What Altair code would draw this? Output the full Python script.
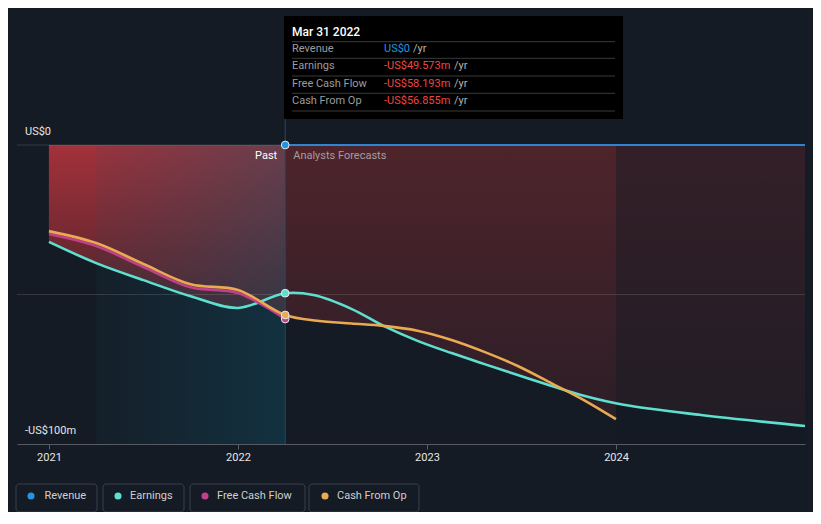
import altair as alt
import pandas as pd

BG = "#151b24"
W, H = 788, 428
X_DOMAIN = [2020.831, 2025.0]
Y_DOMAIN = [-100, 43.14]
NOW = 2022.25

# ---------------- data (US$ m) ----------------
series_names = ["Revenue", "Earnings", "Free Cash Flow", "Cash From Op"]
series_colors = ["#2394df", "#5ee0d0", "#c2408a", "#e9aa52"]

past_years = [2021.0, 2021.25, 2021.5, 2021.75, 2022.0, 2022.25]
earn_past = [-32.4, -39.5, -45.2, -50.6, -54.5, -49.573]
fcf_past = [-29.8, -33.8, -40.8, -47.6, -49.5, -58.193]
cfo_past = [-28.8, -32.8, -39.8, -46.6, -48.5, -56.855]

earn_fc_years = [2022.25, 2022.4, 2022.6, 2022.77, 2022.95, 2023.13,
                 2023.3, 2023.48, 2023.66, 2023.83, 2024.04, 2024.45, 2025.0]
earn_fc = [-49.573, -50.2, -54.8, -60.5, -65.5, -69.6,
           -73.2, -76.9, -80.6, -83.9, -86.9, -90.3, -94.0]
cfo_fc_years = [2022.25, 2022.42, 2022.6, 2022.77, 2022.95, 2023.13,
                2023.3, 2023.48, 2023.66, 2023.83, 2024.0]
cfo_fc = [-56.855, -58.8, -59.7, -60.5, -62.1, -65.2,
          -69.1, -73.9, -79.7, -85.3, -91.7]
rev_fc_years = [2022.25, 2025.0]
rev_fc = [0, 0]

tip_title = "Mar 31 2022"
tip_labels = ["Revenue", "Earnings", "Free Cash Flow", "Cash From Op"]
tip_values = ["US$0", "-US$49.573m", "-US$58.193m", "-US$56.855m"]
tip_value_colors = ["#2394df", "#f04646", "#f04646", "#f04646"]

grid_values = [0, -50]
ylabel_values = [0, -100]
ylabel_texts = ["US$0", "-US$100m"]
x_ticks = [2021, 2022, 2023, 2024]

# ---------------- layout (pixels, plot-relative) ----------------
tip_box = dict(x0=267, x1=606, y0=0, y1=103)
tip_row_y = [33.3, 50, 68, 84.7]
tip_sep_y = [25.7, 42.3, 60, 77.3, 95]
tip_unit_x = [396, 437, 437, 437]
leg_box_x0 = [-1, 86, 173, 292]
leg_box_x1 = [80, 167, 288, 402]
leg_dot_x = [14, 101, 188, 308]
leg_text_x = [27.5, 113, 200, 320]

INTERP = "catmull-rom"

# ---------------- tables ----------------
def rows(name, years, vals):
    return [{"series": name, "year": y, "value": v} for y, v in zip(years, vals)]

lines_df = pd.DataFrame(
    rows("Earnings", past_years + earn_fc_years[1:], earn_past + earn_fc[1:])
    + rows("Free Cash Flow", past_years, fcf_past)
    + rows("Cash From Op", past_years + cfo_fc_years[1:], cfo_past + cfo_fc[1:])
)
rev_df = pd.DataFrame(rows("Revenue", rev_fc_years, rev_fc))
area_past_e = pd.DataFrame(rows("Earnings", past_years, earn_past))
area_past_f = pd.DataFrame(rows("Free Cash Flow", past_years, fcf_past))
area_fc_e = pd.DataFrame(rows("Earnings", earn_fc_years, earn_fc))
area_fc_c = pd.DataFrame(rows("Cash From Op", cfo_fc_years, cfo_fc))
points_df = pd.DataFrame({
    "series": series_names,
    "year": [NOW] * 4,
    "value": [0, earn_past[-1], fcf_past[-1], cfo_past[-1]],
})

xaxis = alt.Axis(values=x_ticks, format="d", title=None, grid=False,
                 labelColor="#e6e6e6", labelFontSize=11, labelFont="Roboto",
                 tickColor="#5a5f68", tickSize=5, domainColor="#555a63",
                 labelPadding=2)
xs = alt.Scale(domain=X_DOMAIN, nice=False, zero=False)
ys = alt.Scale(domain=Y_DOMAIN, nice=False, zero=False)


def X(field="year"):
    return alt.X(f"{field}:Q", scale=xs, axis=xaxis)


def Y(field="value"):
    return alt.Y(f"{field}:Q", scale=ys, axis=None)


color_scale = alt.Scale(domain=series_names, range=series_colors)


def vgrad(c_top, c_bot):
    return {"gradient": "linear", "x1": 0, "y1": 0, "x2": 0, "y2": 1,
            "stops": [{"offset": 0, "color": c_top}, {"offset": 1, "color": c_bot}]}


past_grad = vgrad("#a3313a", "#4c232b")
fc_grad = vgrad("#4f242b", "#2c1e27")
teal_grad = {"gradient": "linear", "x1": 0, "y1": 0, "x2": 1, "y2": 0,
             "stops": [{"offset": 0, "color": "rgba(15,82,105,0.08)"},
                       {"offset": 1, "color": "rgba(15,82,105,0.40)"}]}

layers = []
for d, g in [(area_past_e, past_grad), (area_past_f, past_grad),
             (area_fc_e, fc_grad), (area_fc_c, fc_grad)]:
    layers.append(alt.Chart(d).mark_area(color=g, interpolate=INTERP).encode(
        x=X(), y=Y(), y2=alt.datum(0)))

band_df = pd.DataFrame({"x0": [2024.0, 2021.25], "x1": [2025.0, NOW],
                        "y0": [0, 0], "y1": [-100, -100], "kind": ["dim", "teal"]})
layers.append(alt.Chart(band_df).transform_filter(alt.datum.kind == "dim").mark_rect(
    color="rgba(21,27,36,0.45)").encode(x=X("x0"), x2="x1:Q", y=Y("y0"), y2="y1:Q"))
layers.append(alt.Chart(band_df).transform_filter(alt.datum.kind == "teal").mark_rect(
    color=teal_grad).encode(x=X("x0"), x2="x1:Q", y=Y("y0"), y2="y1:Q"))

grid_df = pd.DataFrame({"v": grid_values})
layers.append(alt.Chart(grid_df).mark_rule(color="#ffffff", opacity=0.13, strokeWidth=1)
              .encode(y=Y("v")))

now_df = pd.DataFrame({"year": [NOW], "lo": [Y_DOMAIN[0]], "hi": [Y_DOMAIN[1]]})
layers.append(alt.Chart(now_df).mark_rule(color="#1f4d63", strokeWidth=1)
              .encode(x=X(), y=Y("lo"), y2="hi:Q"))

layers.append(alt.Chart(rev_df).mark_line(color="#2f84d4", strokeWidth=2)
              .encode(x=X(), y=Y()))

layers.append(alt.Chart(lines_df).mark_line(strokeWidth=2.6, interpolate=INTERP).encode(
    x=X(), y=Y(), color=alt.Color("series:N", scale=color_scale, legend=None),
    detail="series:N"))

layers.append(alt.Chart(points_df).mark_circle(size=60, opacity=1, stroke="#e8e8e8",
                                                strokeWidth=1).encode(
    x=X(), y=Y(), color=alt.Color("series:N", scale=color_scale, legend=None)))

lab_df = pd.DataFrame({"year": [NOW, NOW], "value": [0, 0],
                       "t": ["Past", "Analysts Forecasts"]})
layers.append(alt.Chart(lab_df).transform_filter(alt.datum.t == "Past").mark_text(
    align="right", baseline="middle", dx=-8, dy=11, fontSize=11, font="Roboto",
    color="#ffffff").encode(x=X(), y=Y(), text="t:N"))
layers.append(alt.Chart(lab_df).transform_filter(alt.datum.t != "Past").mark_text(
    align="left", baseline="middle", dx=8, dy=11, fontSize=11, font="Roboto",
    color="#a49ca2").encode(x=X(), y=Y(), text="t:N"))

ylab_df = pd.DataFrame({"v": ylabel_values, "t": ylabel_texts})
layers.append(alt.Chart(ylab_df).mark_text(
    align="left", baseline="middle", dy=-13, fontSize=11, font="Roboto",
    color="#e6e6e6").encode(x=alt.value(8), y=Y("v"), text="t:N"))

# tooltip box
tb = pd.DataFrame([tip_box])
layers.append(alt.Chart(tb).mark_rect(color="#000000").encode(
    x=alt.X("x0:Q", scale=None), x2="x1:Q", y=alt.Y("y0:Q", scale=None), y2="y1:Q"))
sep_df = pd.DataFrame({"y": tip_sep_y})
layers.append(alt.Chart(sep_df).mark_rule(color="#3a3a3a", strokeWidth=1).encode(
    x=alt.value(275), x2=alt.value(598), y=alt.Y("y:Q", scale=None)))
title_df = pd.DataFrame({"t": [tip_title]})
layers.append(alt.Chart(title_df).mark_text(
    align="left", baseline="middle", fontSize=12, font="Roboto", color="#ffffff",
    fontWeight=500).encode(x=alt.value(275), y=alt.value(15.7), text="t:N"))
tip_df = pd.DataFrame({"label": tip_labels, "val": tip_values, "vc": tip_value_colors,
                       "y": tip_row_y, "ux": tip_unit_x, "unit": ["/yr"] * 4})
layers.append(alt.Chart(tip_df).mark_text(
    align="left", baseline="middle", fontSize=11, font="Roboto", color="#9c9c9c").encode(
    x=alt.value(275), y=alt.Y("y:Q", scale=None), text="label:N"))
layers.append(alt.Chart(tip_df).mark_text(
    align="left", baseline="middle", fontSize=11, font="Roboto").encode(
    x=alt.value(367), y=alt.Y("y:Q", scale=None), text="val:N",
    color=alt.Color("vc:N", scale=None)))
layers.append(alt.Chart(tip_df).mark_text(
    align="left", baseline="middle", fontSize=11, font="Roboto", color="#b4b4b4").encode(
    x=alt.X("ux:Q", scale=None), y=alt.Y("y:Q", scale=None), text="unit:N"))

# legend
leg_df = pd.DataFrame({"name": series_names, "c": series_colors,
                       "bx0": leg_box_x0, "bx1": leg_box_x1,
                       "dx": leg_dot_x, "tx": leg_text_x,
                       "by0": [468] * 4, "by1": [496] * 4, "my": [480] * 4})
layers.append(alt.Chart(leg_df).mark_rect(fill="#151b24", fillOpacity=0, stroke="#3b414c",
                                          strokeWidth=1, cornerRadius=3).encode(
    x=alt.X("bx0:Q", scale=None), x2="bx1:Q", y=alt.Y("by0:Q", scale=None), y2="by1:Q"))
layers.append(alt.Chart(leg_df).mark_circle(size=50, opacity=1).encode(
    x=alt.X("dx:Q", scale=None), y=alt.Y("my:Q", scale=None),
    color=alt.Color("c:N", scale=None)))
layers.append(alt.Chart(leg_df).mark_text(
    align="left", baseline="middle", fontSize=11, font="Roboto", color="#cfcfcf").encode(
    x=alt.X("tx:Q", scale=None), y=alt.Y("my:Q", scale=None), text="name:N"))

chart = alt.layer(*layers).properties(
    width=W, height=H,
    padding={"left": 9, "top": 8, "right": 8, "bottom": 68},
    autosize=alt.AutoSizeParams(type="none"),
    background=BG,
).configure(font="Roboto").configure_view(strokeWidth=0, stroke=None)

chart.save("out.html", embed_options={"renderer": "svg", "actions": False})
